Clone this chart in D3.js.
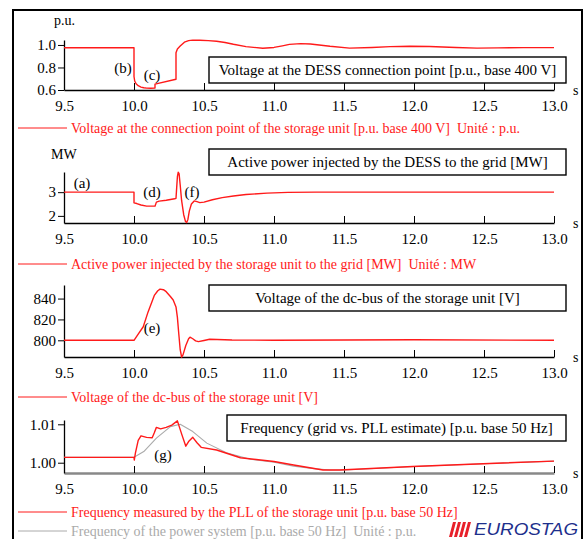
<!doctype html>
<html lang="en">
<head>
<meta charset="utf-8">
<title>DESS simulation</title>
<script src="https://cdn.jsdelivr.net/npm/d3@7"></script>
<style>
  body { margin: 0; background: #fff; }
  text { font-family: "Liberation Serif", "DejaVu Serif", serif; white-space: pre; }
</style>
</head>
<body>
<script>
// ---- data (time in s) ----
var xTicks = [9.5, 10.0, 10.5, 11.0, 11.5, 12.0, 12.5, 13.0];

var tVolt = [9.5, 10.0, 10.0, 10.005, 10.015, 10.03, 10.05, 10.07, 10.09, 10.12, 10.15, 10.15, 10.3, 10.3,
             10.31, 10.33, 10.36, 10.39, 10.42, 10.47, 10.53, 10.59, 10.65, 10.71, 10.8, 10.92, 11.0, 11.06,
             11.11, 11.19, 11.26, 11.4, 11.54, 11.7, 11.83, 11.97, 12.11, 12.3, 12.45, 12.6, 12.78, 13.0];
var volt  = [0.975, 0.975, 0.72, 0.68, 0.655, 0.638, 0.626, 0.62, 0.617, 0.616, 0.617, 0.652, 0.695, 0.93,
             0.965, 0.99, 1.025, 1.038, 1.043, 1.042, 1.038, 1.033, 1.022, 1.006, 0.985, 0.971, 0.978, 0.992,
             1.005, 1.012, 1.008, 0.988, 0.972, 0.978, 0.985, 0.988, 0.986, 0.977, 0.972, 0.974, 0.976, 0.976];
var voltTicks = [0.6, 0.8, 1.0];

var tPower = [9.5, 10.0, 10.0, 10.02, 10.05, 10.09, 10.15, 10.16, 10.18, 10.23, 10.29, 10.3, 10.305, 10.31,
              10.316, 10.322, 10.33, 10.34, 10.355, 10.368, 10.376, 10.385, 10.395, 10.41, 10.43, 10.45, 10.47,
              10.5, 10.56, 10.63, 10.71, 10.8, 10.95, 11.1, 11.3, 13.0];
var power  = [3.0, 3.0, 2.55, 2.52, 2.46, 2.41, 2.41, 2.58, 2.62, 2.66, 2.72, 2.74, 3.2, 3.65,
              3.84, 3.78, 3.3, 2.65, 2.05, 1.76, 1.72, 1.85, 2.2, 2.5, 2.63, 2.6, 2.56,
              2.58, 2.68, 2.77, 2.84, 2.9, 2.96, 2.99, 3.0, 3.0];
var powerTicks = [2, 3];

var tVdc = [9.5, 10.0, 10.03, 10.066, 10.1, 10.145, 10.17, 10.186, 10.21, 10.23, 10.26, 10.28, 10.3, 10.31,
            10.32, 10.33, 10.34, 10.35, 10.37, 10.39, 10.4, 10.42, 10.44, 10.46, 10.5, 10.54, 10.7, 11.0, 12.0, 13.0];
var vdc  = [800, 800, 806, 813, 827, 843, 847.5, 849, 848.5, 846.6, 842, 838.6, 832, 822,
            806, 791, 784, 786, 795, 801.5, 803, 801.5, 799.5, 798.7, 799.8, 801, 800.3, 800, 800.5, 800];
var vdcTicks = [800, 820, 840];

var tPll = [9.5, 10.0, 10.002, 10.01, 10.03, 10.05, 10.07, 10.09, 10.13, 10.145, 10.16, 10.19, 10.23, 10.27,
            10.31, 10.34, 10.37, 10.39, 10.42, 10.45, 10.48, 10.59, 10.76, 11.0, 11.14, 11.35, 11.47, 11.99,
            12.54, 13.0];
var freqPll = [1.0014, 1.0014, 1.0007, 1.0025, 1.0058, 1.0070, 1.0068, 1.0066, 1.0065, 1.0078, 1.0092, 1.0088, 1.0092, 1.0098,
               1.0109, 1.0075, 1.0043, 1.0055, 1.0066, 1.0052, 1.0040, 1.0033, 1.0013, 1.0003, 0.9994, 0.9981, 0.9981, 0.9990,
               0.9998, 1.0004];

var tGrid = [9.5, 10.0, 10.07, 10.16, 10.26, 10.33, 10.42, 10.52, 10.66, 10.83, 11.0, 11.14, 11.3, 11.4,
             11.5, 12.0, 12.54, 13.0];
var freqGrid = [1.0014, 1.0014, 1.0029, 1.0064, 1.0094, 1.0100, 1.0081, 1.0051, 1.0026, 1.0009, 1.0001, 0.9991, 0.9984, 0.9981,
                0.9981, 0.9990, 0.9998, 1.0004];
var freqTicks = [1.00, 1.01];

// ---- layout ----
var W = 584, H = 539;
var red = "#ff1a1a", grey = "#aaaaaa";

var svg = d3.select("body").append("svg")
    .attr("width", W).attr("height", H);

// outer frame
svg.append("path")
    .attr("d", "M13,539 V10 H582 V539")
    .attr("fill", "none").attr("stroke", "#000").attr("stroke-width", 2);

var x = d3.scaleLinear().domain([9.5, 13.0]).range([64, 554]);

function zip(ts, vs) { return ts.map((t, i) => [t, vs[i]]); }

function drawPanel(p) {
    var y = d3.scaleLinear().domain(p.yDomain).range(p.yRange);
    var g = svg.append("g");

    // x axis, ticks pointing up into the plot
    var xa = g.append("g")
        .attr("transform", "translate(0," + p.yRange[0] + ")")
        .call(d3.axisBottom(x).tickValues(xTicks).tickFormat(d3.format(".1f"))
                .tickSizeInner(-7).tickSizeOuter(0).tickPadding(10));
    xa.select(".domain").attr("stroke", p.xAxisColor || "#000").attr("stroke-width", p.xAxisWidth || 1.3);
    xa.selectAll(".tick line").attr("stroke", "#000");
    xa.selectAll("text").attr("font-size", 15).attr("fill", "#000");

    var ya = g.append("g")
        .attr("transform", "translate(64,0)")
        .call(d3.axisLeft(y).tickValues(p.yTicks).tickFormat(p.yFormat)
                .tickSize(6).tickSizeOuter(0).tickPadding(2));
    ya.select(".domain").attr("stroke-width", 1.3);
    ya.selectAll("text").attr("font-size", 15).attr("fill", "#000");

    g.append("text").attr("x", 573).attr("y", p.yRange[0] + 5)
        .attr("font-size", 14).text("s");

    if (p.unit) {
        g.append("text").attr("x", p.unit.x).attr("y", p.unit.y)
            .attr("font-size", 14).text(p.unit.text);
    }

    var line = d3.line().x(d => x(d[0])).y(d => y(d[1]));
    p.series.forEach(s => {
        g.append("path").datum(s.data)
            .attr("fill", "none").attr("stroke", s.color)
            .attr("stroke-width", s.width || 1.4)
            .attr("stroke-linejoin", "round")
            .attr("d", line);
    });

    // title box
    g.append("rect").attr("x", p.box[0]).attr("y", p.box[1])
        .attr("width", 566 - p.box[0]).attr("height", 26)
        .attr("fill", "#fff").attr("stroke", "#000").attr("stroke-width", 1.4);
    g.append("text").attr("x", (p.box[0] + 566) / 2).attr("y", p.box[1] + 18)
        .attr("text-anchor", "middle").attr("font-size", 15).text(p.title);

    p.notes.forEach(n => {
        g.append("text").attr("x", n[0]).attr("y", n[1])
            .attr("text-anchor", "middle").attr("font-size", 15).text(n[2]);
    });

    p.legend.forEach(l => {
        g.append("line").attr("x1", 18).attr("x2", 67).attr("y1", l.y).attr("y2", l.y)
            .attr("stroke", l.color).attr("stroke-width", 1);
        g.append("text").attr("x", 71).attr("y", l.y + 5)
            .attr("font-size", 14).attr("fill", l.color).text(l.text);
    });
}

drawPanel({
    yDomain: [0.6, 1.044], yRange: [90, 40], yTicks: voltTicks, yFormat: d3.format(".1f"),
    unit: {x: 54, y: 25, text: "p.u."},
    series: [{data: zip(tVolt, volt), color: red}],
    box: [209, 57],
    title: "Voltage at the DESS connection point [p.u., base 400 V]",
    notes: [[123, 73, "(b)"], [152, 80, "(c)"]],
    legend: [{y: 128, color: red,
              text: "Voltage at the connection point of the storage unit [p.u. base 400 V]  Unit\u00e9 : p.u."}]
});

drawPanel({
    yDomain: [1.7, 3.85], yRange: [223, 172], yTicks: powerTicks, yFormat: d3.format("d"),
    unit: {x: 51, y: 159, text: "MW"},
    series: [{data: zip(tPower, power), color: red}],
    box: [209, 149],
    title: "Active power injected by the DESS to the grid [MW]",
    notes: [[82, 188, "(a)"], [152, 197, "(d)"], [192, 197, "(f)"]],
    legend: [{y: 264, color: red,
              text: "Active power injected by the storage unit to the grid [MW]  Unit\u00e9 : MW"}]
});

drawPanel({
    yDomain: [784, 853], yRange: [357, 285], yTicks: vdcTicks, yFormat: d3.format("d"),
    series: [{data: zip(tVdc, vdc), color: red}],
    box: [209, 285],
    title: "Voltage of the dc-bus of the storage unit [V]",
    notes: [[152, 333, "(e)"]],
    legend: [{y: 397, color: red, text: "Voltage of the dc-bus of the storage unit [V]"}]
});

drawPanel({
    yDomain: [0.99732, 1.01112], yRange: [473, 420], yTicks: freqTicks, yFormat: d3.format(".2f"),
    xAxisColor: "#888", xAxisWidth: 2.5,
    series: [{data: zip(tGrid, freqGrid), color: grey, width: 1.1},
             {data: zip(tPll, freqPll), color: red}],
    box: [227, 415],
    title: "Frequency (grid vs. PLL estimate) [p.u. base 50 Hz]",
    notes: [[163, 460, "(g)"]],
    legend: [{y: 512, color: red, text: "Frequency measured by the PLL of the storage unit [p.u. base 50 Hz]"},
             {y: 531, color: grey, text: "Frequency of the power system [p.u. base 50 Hz]  Unit\u00e9 : p.u."}]
});

// EUROSTAG logo
var logo = svg.append("g");
[0, 5, 10, 15].forEach(dx => {
    logo.append("path")
        .attr("d", "M" + (453 + dx) + ",522 h3 l-4,15 h-3 Z")
        .attr("fill", "#e8202a");
});
logo.append("text").attr("x", 474).attr("y", 535)
    .style("font-family", "'Liberation Sans', Arial, sans-serif").style("font-style", "italic")
    .attr("font-size", 17).attr("fill", "#1d2f8c")
    .attr("textLength", 104).attr("lengthAdjust", "spacingAndGlyphs")
    .text("EUROSTAG");
</script>
</body>
</html>
